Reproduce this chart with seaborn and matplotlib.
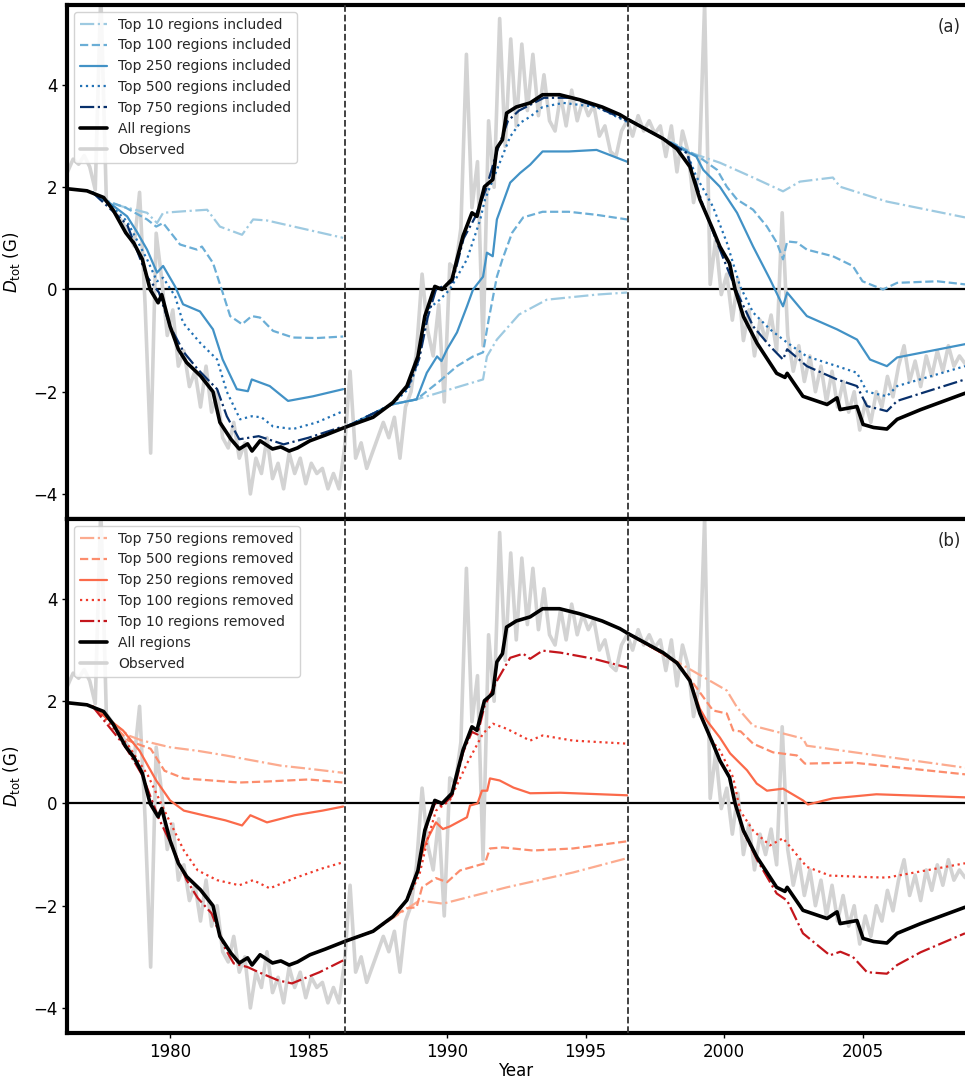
import numpy as np
import pandas as pd
import matplotlib
matplotlib.use("Agg")
import matplotlib.pyplot as plt
import seaborn as sns

nan = np.nan

# --- data ---
# observed dipole, sampled every 0.2 yr from 1976.3
obs_start = 1976.3
obs_step = 0.2
obs_val = [2.30, 2.55, 2.45, 2.62, 2.40, 1.95, 5.80, 1.75, 1.60, 1.45,
           1.30, 1.10, 0.85, 1.90, -0.30, -3.20, 1.10, 0.20, -0.90, -0.40,
           -1.50, -1.20, -1.90, -1.60, -2.30, -1.50, -2.40, -2.00, -2.90, -3.10,
           -2.60, -3.30, -3.00, -4.00, -3.30, -3.60, -2.90, -3.70, -3.40, -3.90,
           -3.20, -3.60, -3.30, -3.80, -3.40, -3.60, -3.50, -3.90, -3.60, -3.90,
           -3.10, -1.60, -3.30, -3.00, -3.50, -3.20, -2.90, -2.60, -2.90, -2.50,
           -3.30, -2.30, -2.00, -1.20, 0.30, -0.80, -1.30, -0.30, -2.20, 0.50,
           0.40, 1.20, 4.60, 1.60, 2.50, -1.10, 3.30, 2.00, 5.30, 2.80,
           4.90, 3.20, 4.80, 3.50, 4.60, 3.40, 4.20, 3.30, 3.10, 3.80,
           3.20, 3.90, 3.30, 3.70, 3.40, 3.60, 3.00, 3.20, 2.70, 2.60,
           3.10, 3.30, 3.00, 3.40, 3.10, 3.30, 3.05, 3.20, 2.60, 3.20,
           2.30, 3.10, 2.70, 1.70, 2.30, 5.60, 0.10, 1.00, -0.10, 0.30,
           -0.60, 0.20, -1.00, -0.40, -1.30, -0.60, -1.00, -0.50, -1.20, 1.50,
           -0.90, -1.60, -1.10, -1.80, -1.30, -2.00, -1.50, -2.20, -1.60, -2.30,
           -1.80, -2.40, -2.00, -2.75, -2.20, -2.60, -2.00, -2.30, -1.70, -2.10,
           -1.50, -1.10, -1.80, -1.40, -1.90, -1.30, -1.70, -1.20, -1.60, -1.10,
           -1.50, -1.30, -1.45]

all_year = [1976.3, 1977.0, 1977.6, 1977.95, 1978.4, 1978.7, 1979.0, 1979.28, 1979.57, 1979.7,
            1980.0, 1980.3, 1980.6, 1981.1, 1981.55, 1981.8, 1982.2, 1982.5, 1982.8, 1982.96,
            1983.25, 1983.7, 1984.0, 1984.3, 1984.6, 1985.05, 1985.6, 1986.3, 1987.33, 1988.05,
            1988.55, 1988.95, 1989.2, 1989.56, 1989.82, 1990.18, 1990.36, 1990.58, 1990.9, 1991.08,
            1991.35, 1991.65, 1991.8, 1992.0, 1992.15, 1992.5, 1993.0, 1993.45, 1994.06, 1994.8,
            1995.6, 1996.24, 1996.55, 1997.8, 1998.3, 1998.77, 1999.13, 1999.6, 1999.85, 2000.2,
            2000.4, 2000.7, 2001.19, 2001.9, 2002.2, 2002.28, 2002.85, 2003.72, 2004.08, 2004.19,
            2004.8, 2005.02, 2005.4, 2005.88, 2006.25, 2007.1, 2008.7]
all_val = [1.97, 1.93, 1.80, 1.55, 1.11, 0.90, 0.59, 0.00, -0.26, -0.10,
           -0.72, -1.17, -1.43, -1.69, -2.00, -2.60, -2.93, -3.12, -3.02, -3.16,
           -2.96, -3.12, -3.08, -3.16, -3.10, -2.96, -2.85, -2.70, -2.50, -2.21,
           -1.89, -1.31, -0.52, 0.06, 0.00, 0.20, 0.59, 1.05, 1.50, 1.43,
           2.01, 2.15, 2.77, 2.93, 3.45, 3.57, 3.65, 3.81, 3.81, 3.71,
           3.57, 3.42, 3.32, 2.95, 2.75, 2.40, 1.76, 1.17, 0.84, 0.51,
           0.00, -0.53, -1.05, -1.64, -1.72, -1.64, -2.09, -2.25, -2.12, -2.35,
           -2.29, -2.64, -2.70, -2.73, -2.54, -2.35, -2.03]

# panel (a): only the top N regions included (nan = break between cycles)
inc10_year = [1977.2, 1977.47, 1978.3, 1979.17, 1979.53, 1979.75, 1980.5, 1981.34, 1981.8, 1982.6, 1983.0, 1983.5, 1986.25,
              nan, 1986.3, 1988.0, 1988.9, 1991.3, 1991.44, 1991.8, 1992.6, 1993.6, 1995.4, 1996.5,
              nan, 1996.55, 1997.8, 1998.66, 1999.85, 2001.05, 2002.13, 2002.74, 2003.93, 2004.19, 2005.88, 2008.7]
inc10_val = [1.90, 1.76, 1.62, 1.50, 1.30, 1.50, 1.53, 1.56, 1.23, 1.07, 1.37, 1.35, 1.01,
             nan, -2.70, -2.25, -2.15, -1.76, -1.31, -0.98, -0.49, -0.20, -0.10, -0.06,
             nan, 3.32, 2.95, 2.70, 2.48, 2.19, 1.92, 2.11, 2.19, 2.01, 1.72, 1.41]

inc100_year = [1977.2, 1977.58, 1978.4, 1979.17, 1979.5, 1979.75, 1980.36, 1980.97, 1981.15, 1981.55, 1981.9, 1982.17,
               1982.6, 1982.95, 1983.25, 1983.72, 1984.44, 1985.3, 1986.25,
               nan, 1986.3, 1988.0, 1988.9, 1989.74, 1990.36, 1990.94, 1991.3, 1991.5, 1991.8, 1992.0, 1992.35,
               1992.75, 1993.45, 1994.4, 1995.4, 1996.5,
               nan, 1996.55, 1997.8, 1998.4, 1999.13, 1999.75, 2000.1, 2000.47, 2001.05, 2001.55, 2001.9, 2002.13,
               2002.28, 2002.63, 2002.99, 2003.93, 2004.65, 2005.0, 2005.74, 2006.25, 2007.7, 2008.7]
inc100_val = [1.90, 1.76, 1.60, 1.37, 1.23, 1.30, 0.88, 0.78, 0.84, 0.52, -0.06, -0.52,
              -0.68, -0.52, -0.55, -0.81, -0.94, -0.95, -0.92,
              nan, -2.70, -2.25, -2.15, -1.79, -1.50, -1.31, -1.23, -0.60, 0.25, 0.59, 1.11,
              1.41, 1.52, 1.52, 1.46, 1.37,
              nan, 3.32, 2.95, 2.80, 2.58, 2.34, 2.01, 1.76, 1.56, 1.23, 0.92, 0.59,
              0.94, 0.92, 0.78, 0.65, 0.46, 0.16, 0.00, 0.13, 0.16, 0.10]

inc250_year = [1977.2, 1977.8, 1978.45, 1978.8, 1979.17, 1979.53, 1979.75, 1980.18, 1980.47, 1981.08, 1981.55, 1981.9,
               1982.41, 1982.81, 1982.95, 1983.6, 1984.26, 1985.16, 1986.25,
               nan, 1986.3, 1988.0, 1988.9, 1989.27, 1989.64, 1989.8, 1990.0, 1990.36, 1990.72, 1990.94, 1991.3,
               1991.44, 1991.65, 1991.8, 1992.28, 1992.64, 1993.0, 1993.45, 1994.4, 1995.4, 1996.5,
               nan, 1996.55, 1997.8, 1998.05, 1999.0, 1999.25, 1999.85, 2000.47, 2001.05, 2001.66, 2002.13, 2002.28,
               2002.99, 2004.08, 2004.8, 2005.27, 2005.88, 2006.25, 2008.7]
inc250_val = [1.90, 1.70, 1.43, 1.13, 0.78, 0.33, 0.46, 0.06, -0.29, -0.43, -0.78, -1.37,
              -1.95, -1.99, -1.76, -1.89, -2.18, -2.09, -1.95,
              nan, -2.70, -2.25, -2.15, -1.63, -1.31, -1.40, -1.17, -0.84, -0.33, 0.00, 0.25,
              0.72, 0.65, 1.37, 2.09, 2.28, 2.44, 2.70, 2.70, 2.73, 2.50,
              nan, 3.32, 2.95, 2.87, 2.60, 2.34, 2.01, 1.50, 0.84, 0.20, -0.33, -0.06,
              -0.52, -0.78, -0.98, -1.37, -1.50, -1.33, -1.07]

inc500_year = [1977.2, 1977.8, 1978.45, 1979.17, 1979.53, 1979.75, 1980.18, 1980.47, 1981.08, 1981.7, 1982.05, 1982.53,
               1982.95, 1983.3, 1983.72, 1984.44, 1985.3, 1986.25,
               nan, 1986.3, 1988.0, 1988.6, 1988.95, 1989.3, 1989.74, 1990.1, 1990.72, 1991.2, 1991.37, 1991.8,
               1992.28, 1992.64, 1993.0, 1993.45, 1994.2, 1995.4, 1996.5,
               nan, 1996.55, 1997.8, 1998.66, 1999.0, 1999.6, 2000.1, 2000.58, 2001.05, 2001.66, 2002.28, 2002.99,
               2004.08, 2004.8, 2005.16, 2005.88, 2006.25, 2008.7]
inc500_val = [1.90, 1.68, 1.33, 0.59, 0.16, 0.23, -0.13, -0.65, -1.04, -1.37, -2.00, -2.54,
              -2.48, -2.50, -2.68, -2.73, -2.60, -2.38,
              nan, -2.70, -2.25, -1.95, -1.45, -0.39, -0.20, 0.00, 0.59, 1.37, 1.76, 2.34,
              2.99, 3.26, 3.38, 3.57, 3.65, 3.57, 3.28,
              nan, 3.32, 2.95, 2.67, 2.21, 1.62, 0.92, 0.06, -0.45, -0.78, -1.04, -1.31,
              -1.50, -1.63, -2.00, -2.09, -1.89, -1.50]

inc750_year = [1977.2, 1978.45, 1979.17, 1979.6, 1980.0, 1980.5, 1981.0, 1981.7, 1982.05, 1982.5, 1983.2, 1984.1,
               1985.0, 1986.25,
               nan, 1986.3, 1988.0, 1988.6, 1989.0, 1989.3, 1989.6, 1990.2, 1990.6, 1991.0, 1991.4, 1991.8,
               1992.2, 1992.6, 1993.5, 1994.5, 1995.5, 1996.5,
               nan, 1996.55, 1997.8, 1998.66, 1999.25, 1999.85, 2000.47, 2001.05, 2001.66, 2002.13, 2002.28, 2002.99,
               2004.08, 2004.8, 2005.16, 2005.88, 2006.25, 2008.7]
inc750_val = [1.90, 1.27, 0.25, -0.06, -0.72, -1.23, -1.56, -1.95, -2.48, -2.93, -2.87, -3.03,
              -2.90, -2.68,
              nan, -2.70, -2.25, -1.90, -1.35, -0.55, 0.00, 0.15, 1.00, 1.40, 1.95, 2.70,
              3.30, 3.50, 3.75, 3.75, 3.55, 3.30,
              nan, 3.32, 2.95, 2.67, 1.62, 0.78, -0.06, -0.72, -1.11, -1.37, -1.17, -1.50,
              -1.76, -1.89, -2.28, -2.38, -2.18, -1.76]

# panel (b): top N regions removed
rem750_year = [1977.2, 1977.5, 1978.5, 1979.0, 1980.0, 1981.0, 1982.0, 1983.0, 1984.0, 1985.0, 1986.25,
               nan, 1986.3, 1987.33, 1988.3, 1989.0, 1989.85, 1992.16, 1994.55, 1996.5,
               nan, 1996.55, 1997.8, 1998.66, 2000.1, 2000.47, 2001.05, 2002.85, 2002.99, 2008.7]
rem750_val = [1.90, 1.78, 1.33, 1.23, 1.10, 1.03, 0.94, 0.84, 0.74, 0.68, 0.60,
              nan, -2.70, -2.50, -2.15, -1.90, -1.96, -1.64, -1.35, -1.07,
              nan, 3.32, 2.93, 2.66, 2.21, 1.88, 1.52, 1.27, 1.13, 0.70]

rem500_year = [1977.2, 1977.5, 1978.5, 1979.3, 1979.8, 1980.5, 1981.5, 1982.5, 1983.5, 1985.0, 1986.25,
               nan, 1986.3, 1987.33, 1988.05, 1988.55, 1988.9, 1989.1, 1989.6, 1990.0, 1990.47, 1991.37, 1991.55,
               1992.02, 1993.1, 1994.55, 1996.5,
               nan, 1996.55, 1997.8, 1998.4, 1999.0, 1999.6, 2000.1, 2000.33, 2000.6, 2001.05, 2001.77, 2002.63,
               2002.92, 2004.65, 2008.7]
rem500_val = [1.90, 1.78, 1.23, 1.07, 0.64, 0.49, 0.45, 0.41, 0.43, 0.47, 0.41,
              nan, -2.70, -2.50, -2.21, -2.05, -2.03, -1.64, -1.46, -1.54, -1.31, -1.17, -0.88,
              -0.86, -0.92, -0.88, -0.74,
              nan, 3.32, 2.93, 2.70, 2.27, 1.82, 1.76, 1.43, 1.41, 1.17, 1.00, 0.94,
              0.78, 0.80, 0.57]

rem250_year = [1977.2, 1977.5, 1978.3, 1978.9, 1979.5, 1980.0, 1980.5, 1981.2, 1982.0, 1982.6, 1982.9, 1983.5,
               1984.5, 1985.5, 1986.25,
               nan, 1986.3, 1987.33, 1988.05, 1988.55, 1988.95, 1989.1, 1989.27, 1989.6, 1989.85, 1990.1, 1990.72,
               1990.83, 1991.1, 1991.26, 1991.45, 1991.55, 1991.9, 1992.4, 1993.0, 1994.1, 1996.5,
               nan, 1996.55, 1997.8, 1998.3, 1998.77, 1999.13, 1999.38, 1999.85, 2000.22, 2000.83, 2001.18, 2001.55,
               2002.13, 2002.85, 2003.03, 2003.93, 2005.5, 2008.7]
rem250_val = [1.90, 1.76, 1.43, 1.03, 0.45, 0.06, -0.14, -0.23, -0.33, -0.43, -0.23, -0.37,
              -0.23, -0.14, -0.06,
              nan, -2.70, -2.50, -2.21, -1.89, -1.31, -0.98, -0.72, -0.37, -0.50, -0.45, -0.27,
              -0.04, 0.00, 0.25, 0.25, 0.49, 0.45, 0.31, 0.20, 0.21, 0.16,
              nan, 3.32, 2.93, 2.75, 2.40, 1.85, 1.62, 1.29, 0.98, 0.65, 0.39, 0.25,
              0.29, 0.06, -0.02, 0.10, 0.18, 0.12]

rem100_year = [1977.2, 1977.5, 1978.5, 1979.2, 1979.8, 1980.5, 1981.0, 1981.7, 1982.5, 1983.0, 1983.6, 1984.5,
               1985.5, 1986.25,
               nan, 1986.3, 1987.33, 1988.05, 1988.55, 1989.0, 1989.3, 1989.6, 1990.1, 1990.72, 1991.3, 1991.66,
               1992.16, 1993.0, 1993.45, 1994.55, 1996.5,
               nan, 1996.55, 1997.8, 1998.3, 1998.77, 1999.13, 1999.6, 1999.85, 2000.33, 2000.58, 2001.05, 2001.66,
               2002.13, 2002.99, 2003.82, 2005.16, 2005.88, 2008.7]
rem100_val = [1.90, 1.76, 1.13, 0.55, -0.14, -0.92, -1.31, -1.50, -1.60, -1.50, -1.66, -1.46,
              -1.27, -1.15,
              nan, -2.70, -2.50, -2.21, -1.89, -1.40, -0.70, -0.14, 0.06, 0.78, 1.37, 1.56,
              1.46, 1.23, 1.33, 1.23, 1.17,
              nan, 3.32, 2.93, 2.75, 2.40, 1.76, 1.20, 1.04, 0.51, -0.14, -0.53, -0.82,
              -0.68, -1.24, -1.41, -1.44, -1.45, -1.17]

rem10_year = [1977.2, 1978.4, 1979.0, 1979.6, 1980.0, 1980.6, 1981.0, 1981.5, 1982.0, 1982.3, 1982.8, 1983.2,
              1983.9, 1984.4, 1985.4, 1986.25,
              nan, 1986.3, 1987.33, 1988.05, 1988.55, 1988.95, 1989.2, 1989.56, 1989.82, 1990.18, 1990.36, 1990.58,
              1990.9, 1991.1, 1991.35, 1991.8, 1992.28, 1992.75, 1993.0, 1993.45, 1994.1, 1995.3, 1996.5,
              nan, 1996.55, 1997.8, 1998.3, 1998.77, 1999.13, 1999.6, 1999.85, 2000.2, 2000.4, 2000.7, 2001.19,
              2001.9, 2002.28, 2002.85, 2003.82, 2004.2, 2004.65, 2005.16, 2005.88, 2006.25, 2007.1, 2008.7]
rem10_val = [1.90, 1.10, 0.55, -0.30, -0.75, -1.50, -1.85, -2.15, -2.85, -3.13, -3.20, -3.30,
             -3.46, -3.52, -3.30, -3.07,
             nan, -2.70, -2.50, -2.21, -1.89, -1.31, -0.55, 0.00, -0.05, 0.15, 0.50, 1.00,
             1.40, 1.35, 1.90, 2.40, 2.85, 2.93, 2.83, 2.99, 2.95, 2.83, 2.66,
             nan, 3.32, 2.93, 2.75, 2.40, 1.76, 1.17, 0.84, 0.51, 0.00, -0.55, -1.10,
             -1.76, -1.90, -2.54, -2.97, -2.90, -3.00, -3.30, -3.33, -3.16, -2.91, -2.54]

cycle_breaks = [1986.3, 1996.55]

blues = {"10": "#9ecae1", "100": "#6baed6", "250": "#4292c6", "500": "#2171b5", "750": "#08306b"}
reds = {"750": "#fcab8f", "500": "#fc8d6d", "250": "#fb6a4a", "100": "#ef3b2c", "10": "#c4161c"}
# line style goes by position in the legend, not by N
pos_styles = ["-.", "--", "-", ":", "-."]

sns.set_style("ticks")
plt.rcParams["font.family"] = ["DejaVu Sans"]
plt.rcParams["mathtext.fontset"] = "dejavusans"


def draw(ax, years, vals, label, **kw):
    df = pd.DataFrame({"year": years, "val": vals})
    seg_id = df["val"].isna().cumsum()
    first = True
    for _, part in df[df["val"].notna()].groupby(seg_id[df["val"].notna()]):
        sns.lineplot(data=part, x="year", y="val", ax=ax, estimator=None, sort=False,
                     label=label if first else None, legend=False, **kw)
        first = False


fig = plt.figure(figsize=(9.65, 10.82), dpi=100)
ax_a = fig.add_axes([67 / 965, 1 - 519 / 1082, 898 / 965, 514 / 1082])
ax_b = fig.add_axes([67 / 965, 1 - 1033 / 1082, 898 / 965, 514 / 1082])

obs_year = obs_start + obs_step * np.arange(len(obs_val))

panels = [
    (ax_a, "(a)", [("10", inc10_year, inc10_val), ("100", inc100_year, inc100_val),
                   ("250", inc250_year, inc250_val), ("500", inc500_year, inc500_val),
                   ("750", inc750_year, inc750_val)], blues, "Top {} regions included"),
    (ax_b, "(b)", [("750", rem750_year, rem750_val), ("500", rem500_year, rem500_val),
                   ("250", rem250_year, rem250_val), ("100", rem100_year, rem100_val),
                   ("10", rem10_year, rem10_val)], reds, "Top {} regions removed"),
]

for ax, tag, series, colors, fmt in panels:
    draw(ax, obs_year, obs_val, "Observed", color="#d3d3d3", lw=2.6, zorder=1)
    for i, (key, yr, vl) in enumerate(series):
        draw(ax, yr, vl, fmt.format(key), color=colors[key], ls=pos_styles[i], lw=1.6, zorder=2)
    draw(ax, all_year, all_val, "All regions", color="black", lw=2.6, zorder=3)

    ax.axhline(0, color="black", lw=1.6, zorder=0.5)
    for xb in cycle_breaks:
        ax.axvline(xb, color="#333333", ls="--", lw=1.3, zorder=4)

    ax.set_xlim(1976.28, 2008.7)
    ax.set_ylim(-4.49, 5.565)
    ax.set_yticks([-4, -2, 0, 2, 4])
    ax.set_yticklabels(["\u22124", "\u22122", "0", "2", "4"])
    ax.set_xticks([1980, 1985, 1990, 1995, 2000, 2005])
    ax.set_ylabel(r"$D_{\rm tot}$ (G)", fontsize=12, color="black", labelpad=8)
    ax.tick_params(axis="both", labelsize=12, colors="black", length=3.5, width=1.0, direction="out")
    for side in ["top", "bottom", "left"]:
        ax.spines[side].set_linewidth(3.0)
        ax.spines[side].set_color("black")
    ax.spines["right"].set_visible(False)
    ax.text(0.995, 0.975, tag, transform=ax.transAxes, ha="right", va="top", fontsize=12)

    handles, labels = ax.get_legend_handles_labels()
    lookup = dict(zip(labels, handles))
    order = [fmt.format(k) for k, _, _ in series] + ["All regions", "Observed"]
    ax.legend([lookup[o] for o in order], order, loc="upper left", fontsize=10,
              frameon=True, edgecolor="#cccccc", framealpha=0.85, borderaxespad=0.5)

ax_a.set_xlabel("")
ax_a.tick_params(axis="x", bottom=False, labelbottom=False)
ax_b.set_xlabel("Year", fontsize=12, color="black", labelpad=1)

fig.savefig("out.png", dpi=100)
